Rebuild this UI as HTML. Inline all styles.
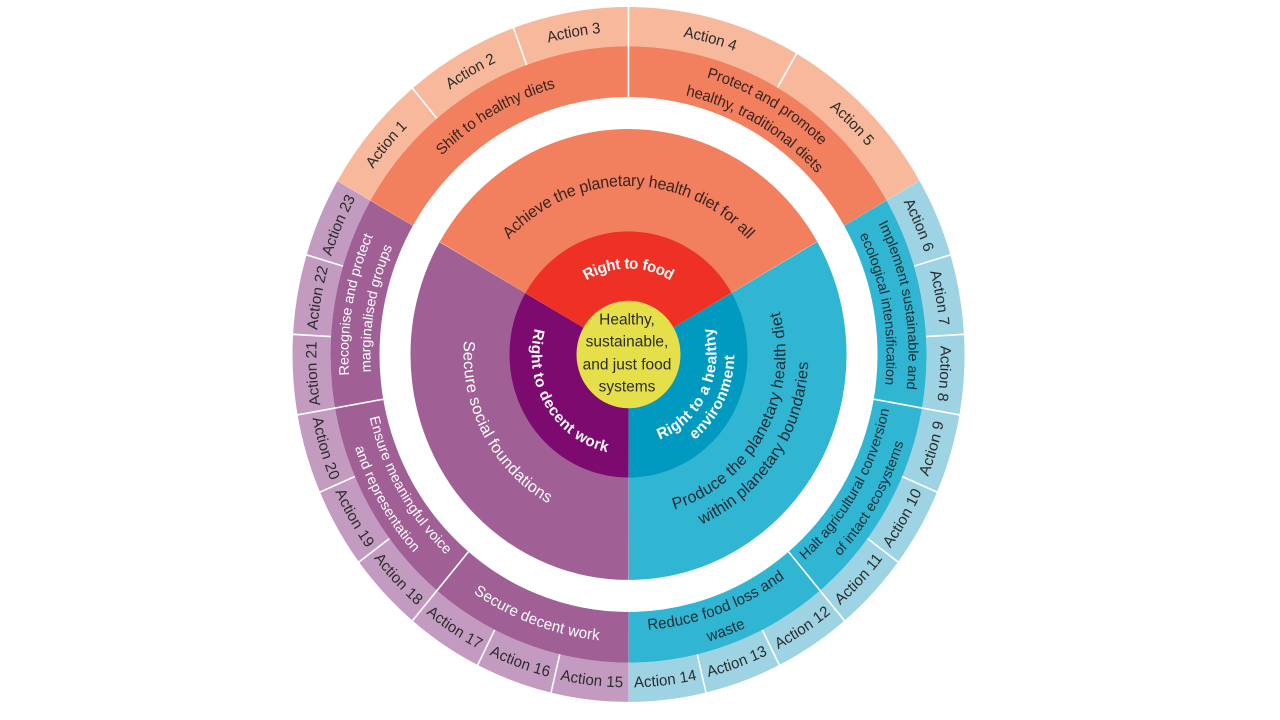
<!DOCTYPE html>
<html><head><meta charset="utf-8"><style>
html,body{margin:0;padding:0;background:#fff;width:1280px;height:720px;overflow:hidden;}
svg{display:block;font-family:"Liberation Sans",sans-serif;}
</style></head><body>
<svg width="1280" height="720" viewBox="0 0 1280 720" xmlns="http://www.w3.org/2000/svg">
<defs>
<path id="cw317" d="M0,317 A317,317 0 1 1 0,-317 A317,317 0 1 1 0,317"/>
<path id="cw273" d="M0,273 A273,273 0 1 1 0,-273 A273,273 0 1 1 0,273"/>
<path id="cw284" d="M0,284 A284,284 0 1 1 0,-284 A284,284 0 1 1 0,284"/>
<path id="cw262" d="M0,262 A262,262 0 1 1 0,-262 A262,262 0 1 1 0,262"/>
<path id="cw168" d="M0,168 A168,168 0 1 1 0,-168 A168,168 0 1 1 0,168"/>
<path id="cw88" d="M0,88 A88,88 0 1 1 0,-88 A88,88 0 1 1 0,88"/>
<path id="cc317" d="M0,-317 A317,317 0 1 0 0,317 A317,317 0 1 0 0,-317"/>
<path id="cc273" d="M0,-273 A273,273 0 1 0 0,273 A273,273 0 1 0 0,-273"/>
<path id="cc284" d="M0,-284 A284,284 0 1 0 0,284 A284,284 0 1 0 0,-284"/>
<path id="cc262" d="M0,-262 A262,262 0 1 0 0,262 A262,262 0 1 0 0,-262"/>
<path id="cc160" d="M0,-160 A160,160 0 1 0 0,160 A160,160 0 1 0 0,-160"/>
<path id="cc152" d="M0,-152 A152,152 0 1 0 0,152 A152,152 0 1 0 0,-152"/>
<path id="cc175" d="M0,-175 A175,175 0 1 0 0,175 A175,175 0 1 0 0,-175"/>
<path id="cc92" d="M0,-92 A92,92 0 1 0 0,92 A92,92 0 1 0 0,-92"/>
<path id="cc83" d="M0,-83 A83,83 0 1 0 0,83 A83,83 0 1 0 0,-83"/>
<path id="cc101" d="M0,-101 A101,101 0 1 0 0,101 A101,101 0 1 0 0,-101"/>
</defs>
<g transform="translate(628.5,354.5) scale(1,1.034)">
<g fill="none" stroke-width="38">
<circle r="317" pathLength="360" stroke="#F8B89B" stroke-dasharray="120 360" transform="rotate(210)"/>
<circle r="317" pathLength="360" stroke="#9DD3E3" stroke-dasharray="120 360" transform="rotate(-30)"/>
<circle r="317" pathLength="360" stroke="#C39BC1" stroke-dasharray="120 360" transform="rotate(90)"/>
</g>
<g fill="none" stroke-width="49">
<circle r="273.5" pathLength="360" stroke="#F2805E" stroke-dasharray="120 360" transform="rotate(210)"/>
<circle r="273.5" pathLength="360" stroke="#30B5D3" stroke-dasharray="120 360" transform="rotate(-30)"/>
<circle r="273.5" pathLength="360" stroke="#A06096" stroke-dasharray="120 360" transform="rotate(90)"/>
</g>
<g fill="none" stroke-width="218">
<circle r="109" pathLength="360" stroke="#F2805E" stroke-dasharray="120 360" transform="rotate(210)"/>
<circle r="109" pathLength="360" stroke="#30B5D3" stroke-dasharray="120 360" transform="rotate(-30)"/>
<circle r="109" pathLength="360" stroke="#A06096" stroke-dasharray="120 360" transform="rotate(90)"/>
</g>
<g fill="none" stroke-width="119">
<circle r="59.5" pathLength="360" stroke="#EE3124" stroke-dasharray="120 360" transform="rotate(210)"/>
<circle r="59.5" pathLength="360" stroke="#0099C0" stroke-dasharray="120 360" transform="rotate(-30)"/>
<circle r="59.5" pathLength="360" stroke="#7D0A6E" stroke-dasharray="120 360" transform="rotate(90)"/>
</g>
<circle r="52" fill="#E5E04A"/>
<g stroke="#fff" stroke-width="1.6">
<line x1="0" y1="-298" x2="0" y2="-337" transform="rotate(320)"/>
<line x1="0" y1="-298" x2="0" y2="-337" transform="rotate(340)"/>
<line x1="0" y1="-298" x2="0" y2="-337" transform="rotate(30)"/>
<line x1="0" y1="-298" x2="0" y2="-337" transform="rotate(73.33)"/>
<line x1="0" y1="-298" x2="0" y2="-337" transform="rotate(86.67)"/>
<line x1="0" y1="-298" x2="0" y2="-337" transform="rotate(113.33)"/>
<line x1="0" y1="-298" x2="0" y2="-337" transform="rotate(126.67)"/>
<line x1="0" y1="-298" x2="0" y2="-337" transform="rotate(153.33)"/>
<line x1="0" y1="-298" x2="0" y2="-337" transform="rotate(166.67)"/>
<line x1="0" y1="-298" x2="0" y2="-337" transform="rotate(193.33)"/>
<line x1="0" y1="-298" x2="0" y2="-337" transform="rotate(206.67)"/>
<line x1="0" y1="-298" x2="0" y2="-337" transform="rotate(233.33)"/>
<line x1="0" y1="-298" x2="0" y2="-337" transform="rotate(246.67)"/>
<line x1="0" y1="-298" x2="0" y2="-337" transform="rotate(273.33)"/>
<line x1="0" y1="-298" x2="0" y2="-337" transform="rotate(286.67)"/>
<line x1="0" y1="-249" x2="0" y2="-337" transform="rotate(0)"/>
<line x1="0" y1="-249" x2="0" y2="-337" transform="rotate(100)"/>
<line x1="0" y1="-249" x2="0" y2="-337" transform="rotate(140)"/>
<line x1="0" y1="-249" x2="0" y2="-337" transform="rotate(220)"/>
<line x1="0" y1="-249" x2="0" y2="-337" transform="rotate(260)"/>
</g>
<g font-size="15" fill="#2b2b2b" text-anchor="middle" dominant-baseline="central">
<text><textPath href="#cw317" startOffset="36.11%">Action 1</textPath></text>
<text><textPath href="#cw317" startOffset="41.67%">Action 2</textPath></text>
<text><textPath href="#cw317" startOffset="47.22%">Action 3</textPath></text>
<text><textPath href="#cw317" startOffset="54.17%">Action 4</textPath></text>
<text><textPath href="#cw317" startOffset="62.5%">Action 5</textPath></text>
<text><textPath href="#cw317" startOffset="68.52%">Action 6</textPath></text>
<text><textPath href="#cw317" startOffset="72.22%">Action 7</textPath></text>
<text><textPath href="#cw317" startOffset="75.93%">Action 8</textPath></text>
<text><textPath href="#cc317" startOffset="70.37%">Action 9</textPath></text>
<text><textPath href="#cc317" startOffset="66.67%">Action 10</textPath></text>
<text><textPath href="#cc317" startOffset="62.96%">Action 11</textPath></text>
<text><textPath href="#cc317" startOffset="59.26%">Action 12</textPath></text>
<text><textPath href="#cc317" startOffset="55.56%">Action 13</textPath></text>
<text><textPath href="#cc317" startOffset="51.85%">Action 14</textPath></text>
<text><textPath href="#cc317" startOffset="48.15%">Action 15</textPath></text>
<text><textPath href="#cc317" startOffset="44.44%">Action 16</textPath></text>
<text><textPath href="#cc317" startOffset="40.74%">Action 17</textPath></text>
<text><textPath href="#cc317" startOffset="37.04%">Action 18</textPath></text>
<text><textPath href="#cc317" startOffset="33.33%">Action 19</textPath></text>
<text><textPath href="#cc317" startOffset="29.63%">Action 20</textPath></text>
<text><textPath href="#cw317" startOffset="24.07%">Action 21</textPath></text>
<text><textPath href="#cw317" startOffset="27.78%">Action 22</textPath></text>
<text><textPath href="#cw317" startOffset="31.48%">Action 23</textPath></text>
</g>
<g font-size="15" text-anchor="middle" dominant-baseline="central">
<g fill="#3a2420">
<text><textPath href="#cw273" startOffset="41.67%">Shift to healthy diets</textPath></text>
<text><textPath href="#cw284" startOffset="58.33%">Protect and promote</textPath></text>
<text><textPath href="#cw262" startOffset="58.33%">healthy, traditional diets</textPath></text>
</g>
<g fill="#1e2a30" font-size="14">
<text><textPath href="#cw284" startOffset="72.22%">Implement sustainable and</textPath></text>
<text><textPath href="#cw262" startOffset="72.22%">ecological intensification</textPath></text>
<text><textPath href="#cc262" startOffset="66.67%">Halt agricultural conversion</textPath></text>
<text><textPath href="#cc284" startOffset="66.67%">of intact ecosystems</textPath></text>
<text font-size="15"><textPath href="#cc262" startOffset="55.56%">Reduce food loss and</textPath></text>
<text font-size="15"><textPath href="#cc284" startOffset="55.56%">waste</textPath></text>
</g>
<g fill="#fff">
<text><textPath href="#cc273" startOffset="44.44%">Secure decent work</textPath></text>
<text font-size="14"><textPath href="#cc262" startOffset="33.33%">Ensure meaningful voice</textPath></text>
<text font-size="14"><textPath href="#cc284" startOffset="33.33%">and representation</textPath></text>
<text font-size="14"><textPath href="#cw284" startOffset="27.78%">Recognise and protect</textPath></text>
<text font-size="14"><textPath href="#cw262" startOffset="27.78%">marginalised groups</textPath></text>
</g>
</g>
<g font-size="16" text-anchor="middle" dominant-baseline="central">
<text fill="#3a2420"><textPath href="#cw168" startOffset="50%">Achieve the planetary health diet for all</textPath></text>
<text fill="#fff"><textPath href="#cc160" startOffset="32.8%">Secure social foundations</textPath></text>
<text fill="#1e2a30"><textPath href="#cc152" startOffset="67%">Produce the planetary health diet</textPath></text>
<text fill="#1e2a30"><textPath href="#cc175" startOffset="65.5%">within planetary boundaries</textPath></text>
</g>
<g font-size="15" font-weight="bold" fill="#fff" text-anchor="middle" dominant-baseline="central">
<text><textPath href="#cw88" startOffset="50%">Right to food</textPath></text>
<text><textPath href="#cc92" startOffset="33.6%">Right to decent work</textPath></text>
<text><textPath href="#cc83" startOffset="67.8%">Right to a healthy</textPath></text>
<text><textPath href="#cc101" startOffset="67.8%">environment</textPath></text>
</g>
</g>
<g font-size="15.5" fill="#2b2b2b" text-anchor="middle" dominant-baseline="central">
<text x="627" y="320">Healthy,</text>
<text x="627" y="342">sustainable,</text>
<text x="627" y="365">and just food</text>
<text x="627" y="387">systems</text>
</g>
</svg>
</body></html>
